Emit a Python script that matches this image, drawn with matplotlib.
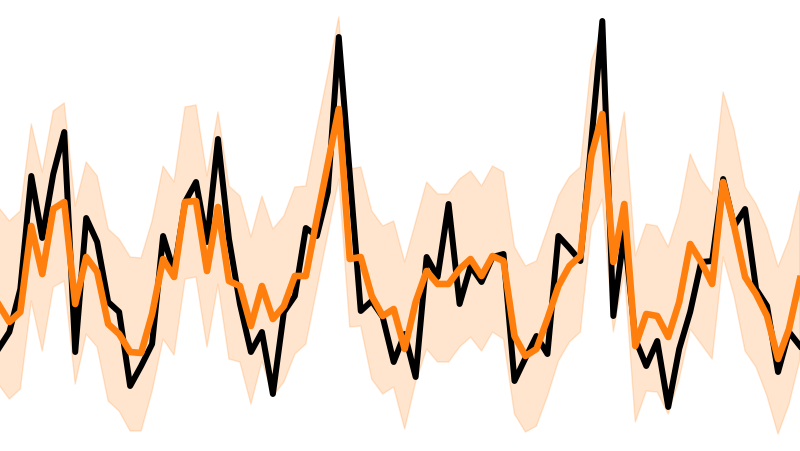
import numpy as np
import matplotlib
matplotlib.use("Agg")
import matplotlib.pyplot as plt

# observed series (black) and model mean (orange) with its band
observed = [10.2, 11.9, 16.2, 27.5, 21.3, 27.7, 31.9, 9.9, 23.3, 20.9,
            14.9, 13.9, 6.5, 8.5, 10.7, 21.5, 17.9, 24.9, 26.9, 20.9,
            31.2, 21.2, 14.7, 9.9, 11.9, 5.7, 13.9, 15.5, 22.3, 21.5,
            25.9, 41.4, 27.7, 14.0, 15.0, 13.4, 8.9, 11.7, 7.4, 19.4,
            17.4, 24.7, 14.7, 18.5, 16.9, 19.4, 19.7, 7.0, 9.3, 11.5,
            9.7, 21.5, 20.3, 19.0, 31.0, 43.0, 13.5, 21.9, 11.2, 8.5,
            11.0, 4.4, 10.2, 13.9, 18.9, 19.0, 27.2, 22.5, 24.2, 16.2,
            14.5, 7.9, 11.9, 10.5]

mean = [14.7, 12.9, 13.9, 22.5, 17.7, 24.2, 24.9, 14.7, 19.4, 17.9,
        12.7, 11.7, 9.9, 9.8, 13.7, 19.2, 17.4, 24.9, 25.0, 18.0,
        24.4, 17.0, 16.5, 12.5, 16.5, 13.2, 14.5, 17.5, 17.5, 23.2,
        28.7, 34.2, 19.2, 19.4, 15.5, 13.5, 14.2, 10.2, 14.9, 18.0,
        16.7, 16.7, 18.2, 19.2, 17.5, 19.5, 19.0, 11.5, 9.5, 10.2,
        13.2, 16.5, 18.5, 19.5, 29.5, 33.7, 18.9, 24.7, 10.5, 13.7,
        13.5, 11.4, 14.9, 20.7, 18.9, 16.7, 26.9, 22.5, 17.4, 15.7,
        13.5, 9.2, 12.2, 17.2]

upper = [24.4, 23.0, 24.0, 32.7, 27.9, 34.0, 34.8, 24.5, 28.9, 27.5,
         22.2, 21.2, 19.4, 19.3, 23.0, 28.5, 26.9, 34.4, 34.6, 27.5,
         33.9, 26.5, 25.5, 21.4, 25.5, 22.2, 23.5, 26.4, 26.5, 32.2,
         37.7, 43.4, 28.2, 28.4, 24.0, 22.5, 23.0, 18.9, 22.9, 26.9,
         25.7, 25.7, 27.2, 28.0, 26.5, 28.5, 27.9, 20.4, 18.5, 19.0,
         22.2, 25.5, 27.4, 28.4, 39.0, 42.2, 27.9, 33.9, 19.5, 22.7,
         22.5, 20.4, 23.9, 29.7, 27.2, 25.7, 35.9, 32.2, 26.4, 24.7,
         22.2, 18.4, 21.2, 26.0]

lower = [6.7, 5.2, 6.2, 15.0, 10.0, 16.4, 17.0, 6.7, 11.7, 10.4,
         5.0, 4.0, 2.0, 2.0, 6.0, 11.2, 9.6, 17.2, 17.4, 10.4,
         16.7, 9.2, 8.9, 4.7, 9.0, 5.5, 6.9, 9.7, 10.7, 16.2,
         21.7, 27.2, 12.4, 12.5, 7.2, 5.7, 6.4, 2.2, 6.9, 10.2,
         8.9, 8.9, 10.4, 11.4, 10.0, 11.9, 11.2, 3.7, 1.9, 2.5,
         5.5, 9.0, 10.9, 11.9, 22.4, 25.2, 11.9, 17.9, 2.9, 6.0,
         5.9, 3.7, 7.2, 12.2, 10.7, 9.2, 19.4, 15.5, 10.0, 8.4,
         5.5, 1.7, 4.7, 9.2]

t = np.arange(len(observed))

fig = plt.figure(figsize=(8, 4.52), dpi=100)
ax = fig.add_axes([0, 0, 1, 1])
ax.fill_between(t, lower, upper, color="tab:orange", alpha=0.2)
ax.plot(t, observed, color="black", lw=4.3)
ax.plot(t, mean, color="tab:orange", lw=4.8)
ax.set_xlim(0.15, 73)
ax.set_ylim(0, 45.2)
ax.axis("off")
fig.savefig("out.png")
